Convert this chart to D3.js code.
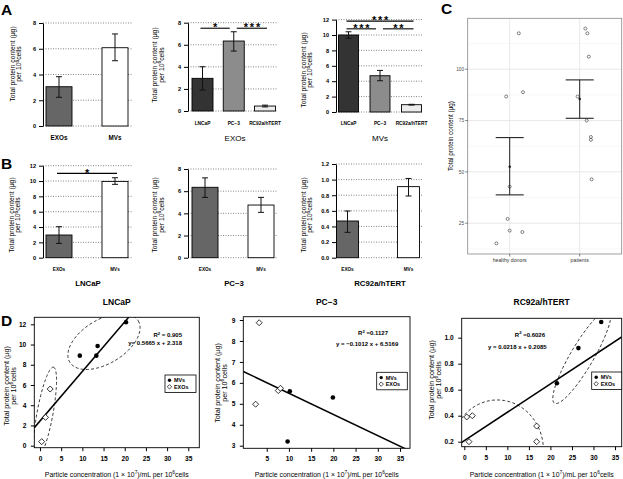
<!DOCTYPE html>
<html><head><meta charset="utf-8">
<script src="https://cdn.jsdelivr.net/npm/d3@7"></script>
<style>body{margin:0;background:#fff} svg{display:block}</style>
</head><body><script>
// ---------------- DATA ----------------
const expCats = ["EXOs","MVs"];
const lineCats = ["LNCaP","PC−3","RC92a/hTERT"];
const ticks8 = [0,2,4,6,8];
const ticks12 = [0,2,4,6,8,10,12];
const ticks12b = [0,0.2,0.4,0.6,0.8,1.0,1.2];

const a1Mean=[3.05,6.08], a1Lo=[2.23,5.07], a1Hi=[3.83,7.15];
const a2Mean=[2.96,6.34,0.45], a2Lo=[1.9,5.43,0.37], a2Hi=[4.01,7.18,0.53];
const a3Mean=[10.0,4.71,0.95], a3Lo=[9.57,4.06,0.9], a3Hi=[10.42,5.4,1.0];
const b1Mean=[2.96,9.95], b1Lo=[1.87,9.57], b1Hi=[4.04,10.43];
const b2Mean=[6.35,4.75], b2Lo=[5.44,4.09], b2Hi=[7.2,5.44];
const b3Mean=[0.47,0.91], b3Lo=[0.325,0.79], b3Hi=[0.598,1.015];

const a2Sig=[{from:"LNCaP",to:"PC−3",level:7.5,label:"*"},{from:"PC−3",to:"RC92a/hTERT",level:7.5,label:"***"}];
const a3Sig=[{from:"LNCaP",to:"RC92a/hTERT",level:11.8,label:"***"},{from:"LNCaP",to:"PC−3",level:10.8,label:"***"},{from:"PC−3",to:"RC92a/hTERT",level:10.8,label:"**"}];
const b1Sig=[{from:"EXOs",to:"MVs",level:11.0,label:"*"}];

// Panel C
const groupsC=["healthy donors","patients"];
const healthyVals=[117.5,86.7,88.8,42.8,27.1,21.4,20.7,15.2];
const healthyJit=[0.13,-0.05,0.19,0,-0.03,0,0.18,-0.19];
const patientVals=[119.8,117.5,106.1,86.7,75.0,67.0,65.6,46.4];
const patientJit=[0.08,0.11,0.13,-0.03,0.10,0.16,0.16,0.17];
const errLoC=[38.8,76.1], errHiC=[66.7,94.8];
const ticksC=[25,50,75,100];

// Panel D
const dTicksX=[0,5,10,15,20,25,30,35];
const d1MvX=[9.4,13.3,13.6,20.3], d1MvY=[8.9,8.9,9.85,12.2];
const d1ExX=[0.4,1.3,2.4], d1ExY=[0.4,2.8,5.6];
const d2MvX=[10.2,9.7,19.9], d2MvY=[5.6,3.2,5.3];
const d2ExX=[3.3,2.5,7.6,8.1], d2ExY=[8.87,4.98,5.63,5.74];
const d3MvX=[21.5,26.5,31.8], d3MvY=[0.65,0.92,1.12];
const d3ExX=[0.56,1.86,1.09,16.8,16.8], d3ExY=[0.39,0.40,0.20,0.32,0.20];
const d1Fit={slope:0.49,intercept:2.44}, d2Fit={slope:-0.1012,intercept:6.5169}, d3Fit={slope:0.0218,intercept:0.2085};
const d1R2="0.905", d1Eq="y= 0.5665 x + 2.318";
const d2R2="0.1127", d2Eq="y = −0.1012 x + 6.5169";
const d3R2="0.6026", d3Eq="y = 0.0218 x + 0.2085";
const d1Ell=[{c:[15.1,10.3],u:[8.09,2.04],v:[2.67,-1.87]},{c:[1.18,3.2],u:[2.0,4.56],v:[1.85,-0.14]}];
const d3Ell=[{c:[7.67,0.136],u:[10.7,0],v:[0,0.385]},{c:[27.3,0.854],u:[6.35,0.358],v:[2.3,-0.045]}];

// ---------------- DRAW ----------------
const FONT='"Liberation Sans", Arial, Helvetica, sans-serif';
const svg=d3.select("body").append("svg").attr("width",623).attr("height",479).attr("font-family",FONT);

function txt(x,y,s,size,o={}){
  return svg.append("text").attr("x",x).attr("y",y).attr("font-size",size)
    .attr("text-anchor",o.anchor||"middle").attr("font-weight",o.bold?"bold":"normal")
    .attr("fill",o.fill||"#000").text(s);
}
function yLabel(cx,cy,size,gap){
  const t=svg.append("text").attr("transform",`translate(${cx},${cy}) rotate(-90)`).attr("text-anchor","middle").attr("font-size",size);
  t.text("Total protein content (μg)");
  const t2=svg.append("text").attr("transform",`translate(${cx+gap},${cy}) rotate(-90)`).attr("text-anchor","middle").attr("font-size",size);
  t2.append("tspan").text("per 10");
  t2.append("tspan").attr("dy",-size*0.38).attr("font-size",size*0.7).text("6");
  t2.append("tspan").attr("dy",size*0.38).text("cells");
}

function barPanel(o){
  const y=d3.scaleLinear().domain([0,o.max]).range([o.y0,o.yTop]);
  const x=d3.scalePoint().domain(o.cats).range(o.xr);
  const g=svg.append("g");
  g.selectAll("line.grid").data(o.ticks).join("line")
    .attr("x1",o.axisX).attr("x2",o.gridR).attr("y1",d=>y(d)).attr("y2",d=>y(d))
    .attr("stroke","#333").attr("stroke-width",0.6).attr("stroke-dasharray","1,1.5");
  const ax=g.append("g").attr("transform",`translate(${o.axisX},0)`)
    .call(d3.axisLeft(y).tickValues(o.ticks).tickSize(4).tickSizeOuter(0).tickPadding(3).tickFormat(d3.format(o.fmt||"d")));
  ax.attr("font-family",FONT).attr("font-size",5.6).attr("font-weight","bold");
  ax.select(".domain").attr("stroke-width",1);
  const data=o.cats.map((c,i)=>({c,m:o.mean[i],lo:o.lo[i],hi:o.hi[i],f:o.fills[i]}));
  g.selectAll("rect.bar").data(data).join("rect")
    .attr("x",d=>x(d.c)-o.bw/2).attr("width",o.bw).attr("y",d=>y(d.m)).attr("height",d=>o.y0-y(d.m))
    .attr("fill",d=>d.f).attr("stroke","#000").attr("stroke-width",0.9);
  const eb=g.selectAll("g.eb").data(data).join("g").attr("stroke","#111").attr("stroke-width",1);
  eb.append("line").attr("x1",d=>x(d.c)).attr("x2",d=>x(d.c)).attr("y1",d=>y(d.lo)).attr("y2",d=>y(d.hi));
  eb.append("line").attr("x1",d=>x(d.c)-3).attr("x2",d=>x(d.c)+3).attr("y1",d=>y(d.lo)).attr("y2",d=>y(d.lo));
  eb.append("line").attr("x1",d=>x(d.c)-3).attr("x2",d=>x(d.c)+3).attr("y1",d=>y(d.hi)).attr("y2",d=>y(d.hi));
  o.cats.forEach(c=>txt(x(c),o.catY,c,o.catSize,{bold:true}));
  if(o.title) txt(o.titleX,o.titleY,o.title,o.titleSize,{bold:o.titleBold});
  yLabel(o.labX,o.labY,6.8,6.6);
  (o.sig||[]).forEach(s=>{
    const sharedStart=o.sig.some(t=>t!==s&&t.level===s.level&&t.to===s.from);
    const sharedEnd=o.sig.some(t=>t!==s&&t.level===s.level&&t.from===s.to);
    const x1=x(s.from)+(sharedStart?3:-2), x2=x(s.to)+(sharedEnd?-4:2);
    g.append("line").attr("x1",x1).attr("x2",x2).attr("y1",y(s.level)).attr("y2",y(s.level)).attr("stroke","#000").attr("stroke-width",1.1);
    svg.append("text").attr("x",(x1+x2)/2+1).attr("y",y(s.level)+3.2).attr("text-anchor","middle")
      .attr("font-size",11).attr("font-weight","bold").attr("letter-spacing",1.8).text(s.label);
  });
}

const fillsLine=["#333333","#8c8c8c","#ececec"];
const fillsExp=["#666666","#ffffff"];

barPanel({cats:expCats,xr:[59,115],bw:26,axisX:43,y0:126,yTop:23,max:8,ticks:ticks8,gridR:132,
  mean:a1Mean,lo:a1Lo,hi:a1Hi,fills:fillsExp,catY:139.5,catSize:6.3,labX:14.5,labY:64});
barPanel({cats:lineCats,xr:[202.5,265],bw:21,axisX:188,y0:111,yTop:22.7,max:8,ticks:ticks8,gridR:277,
  mean:a2Mean,lo:a2Lo,hi:a2Hi,fills:fillsLine,catY:125,catSize:4.8,title:"EXOs",titleX:235,titleY:140.5,titleSize:8,
  labX:157,labY:65,sig:a2Sig});
barPanel({cats:lineCats,xr:[348.5,411.5],bw:20,axisX:336,y0:112,yTop:19.6,max:12,ticks:ticks12,gridR:423,
  mean:a3Mean,lo:a3Lo,hi:a3Hi,fills:fillsLine,catY:125,catSize:4.8,title:"MVs",titleX:380,titleY:140.5,titleSize:8,
  labX:305.5,labY:70,sig:a3Sig});
barPanel({cats:expCats,xr:[59,115],bw:26,axisX:43,y0:257.7,yTop:165.7,max:12,ticks:ticks12,gridR:133,
  mean:b1Mean,lo:b1Lo,hi:b1Hi,fills:fillsExp,catY:270.5,catSize:4.6,title:"LNCaP",titleX:88,titleY:286,titleSize:7.8,titleBold:true,
  labX:13.5,labY:215,sig:b1Sig});
barPanel({cats:expCats,xr:[205,261],bw:26,axisX:188,y0:257.7,yTop:169,max:8,ticks:ticks8,gridR:277,
  mean:b2Mean,lo:b2Lo,hi:b2Hi,fills:fillsExp,catY:270.5,catSize:4.6,title:"PC−3",titleX:234,titleY:286,titleSize:7.8,titleBold:true,
  labX:157,labY:215});
barPanel({cats:expCats,xr:[347.5,408.5],bw:22,axisX:336,y0:257.7,yTop:164,max:1.2,ticks:ticks12b,fmt:".1f",gridR:423,
  mean:b3Mean,lo:b3Lo,hi:b3Hi,fills:fillsExp,catY:270.5,catSize:4.6,title:"RC92a/hTERT",titleX:380,titleY:286,titleSize:7.8,titleBold:true,
  labX:305.5,labY:215});

// ---------- Panel C ----------
(function(){
  const L=467.7,R=621.7,T=18.3,B=254;
  const xC=d3.scaleLinear().domain([0.4,2.6]).range([L,R]);
  const yC=d3.scaleLinear().domain([10,124.8]).range([B,T]);
  const g=svg.append("g");
  g.append("rect").attr("x",L).attr("y",T).attr("width",R-L).attr("height",B-T).attr("fill","#fff");
  const minor=[12.5,37.5,62.5,87.5,112.5];
  g.selectAll("line.mn").data(minor).join("line").attr("x1",L).attr("x2",R).attr("y1",d=>yC(d)).attr("y2",d=>yC(d)).attr("stroke","#f0f0f0").attr("stroke-width",0.5);
  g.selectAll("line.mj").data(ticksC).join("line").attr("x1",L).attr("x2",R).attr("y1",d=>yC(d)).attr("y2",d=>yC(d)).attr("stroke","#e2e2e2").attr("stroke-width",0.8);
  g.selectAll("line.vx").data([1,2]).join("line").attr("x1",d=>xC(d)).attr("x2",d=>xC(d)).attr("y1",T).attr("y2",B).attr("stroke","#e2e2e2").attr("stroke-width",0.8);
  g.append("rect").attr("x",L).attr("y",T).attr("width",R-L).attr("height",B-T).attr("fill","none").attr("stroke","#888").attr("stroke-width",0.8);
  g.selectAll("line.ty").data(ticksC).join("line").attr("x1",L-2.5).attr("x2",L).attr("y1",d=>yC(d)).attr("y2",d=>yC(d)).attr("stroke","#333").attr("stroke-width",0.6);
  ticksC.forEach(t=>txt(L-3.5,yC(t)+1.7,String(t),4.8,{anchor:"end",fill:"#4d4d4d"}));
  g.selectAll("line.tx").data([1,2]).join("line").attr("x1",d=>xC(d)).attr("x2",d=>xC(d)).attr("y1",B).attr("y2",B+2.5).attr("stroke","#333").attr("stroke-width",0.6);
  groupsC.forEach((c,i)=>txt(xC(i+1),262,c,5.2,{fill:"#333"}));
  svg.append("text").attr("transform",`translate(452.5,136) rotate(-90)`).attr("text-anchor","middle").attr("font-size",6.3).text("Total protein content (μg)");
  const sets=[{v:healthyVals,j:healthyJit,i:1},{v:patientVals,j:patientJit,i:2}];
  sets.forEach((s,k)=>{
    g.selectAll(null).data(s.v).join("circle").attr("cx",(d,n)=>xC(s.i+s.j[n])).attr("cy",d=>yC(d)).attr("r",1.5)
      .attr("fill","none").attr("stroke","#333").attr("stroke-width",0.6);
    const cx=xC(s.i);
    g.append("line").attr("x1",cx).attr("x2",cx).attr("y1",yC(errLoC[k])).attr("y2",yC(errHiC[k])).attr("stroke","#222").attr("stroke-width",1);
    [errLoC[k],errHiC[k]].forEach(v=>g.append("line").attr("x1",xC(s.i-0.2)).attr("x2",xC(s.i+0.2)).attr("y1",yC(v)).attr("y2",yC(v)).attr("stroke","#222").attr("stroke-width",1.1));
    g.append("circle").attr("cx",cx).attr("cy",yC(d3.mean(s.v))).attr("r",1.2).attr("fill","#111");
  });
})();

// ---------- Panel D ----------
function scatterPanel(o){
  const x=d3.scaleLinear().domain(o.xd).range([o.L,o.R]);
  const y=d3.scaleLinear().domain(o.yd).range([o.B,o.T]);
  const id="clip"+o.id;
  svg.append("clipPath").attr("id",id).append("rect").attr("x",o.L).attr("y",o.T).attr("width",o.R-o.L).attr("height",o.B-o.T);
  const g=svg.append("g");
  const cg=g.append("g").attr("clip-path",`url(#${id})`);
  (o.ell||[]).forEach(e=>{
    const pts=d3.range(0,361,3).map(a=>{const t=a*Math.PI/180;
      return [x(e.c[0]+e.u[0]*Math.cos(t)+e.v[0]*Math.sin(t)), y(e.c[1]+e.u[1]*Math.cos(t)+e.v[1]*Math.sin(t))];});
    cg.append("path").attr("d",d3.line()(pts)+"Z").attr("fill","none").attr("stroke","#222").attr("stroke-width",0.9).attr("stroke-dasharray","3,2.2");
  });
  cg.append("line").attr("x1",x(o.xd[0])).attr("x2",x(o.xd[1]))
    .attr("y1",y(o.fit.intercept+o.fit.slope*o.xd[0])).attr("y2",y(o.fit.intercept+o.fit.slope*o.xd[1]))
    .attr("stroke","#000").attr("stroke-width",1.5);
  const diamond=r=>`M0,${-r}L${r},0L0,${r}L${-r},0Z`;
  g.selectAll(null).data(o.exX).join("path").attr("d",diamond(3)).attr("transform",(d,i)=>`translate(${x(d)},${y(o.exY[i])})`)
    .attr("fill","#fff").attr("stroke","#000").attr("stroke-width",0.8);
  g.selectAll(null).data(o.mvX).join("circle").attr("cx",d=>x(d)).attr("cy",(d,i)=>y(o.mvY[i])).attr("r",2.3).attr("fill","#000");
  g.append("rect").attr("x",o.L).attr("y",o.T).attr("width",o.R-o.L).attr("height",o.B-o.T).attr("fill","none").attr("stroke","#000").attr("stroke-width",0.9);
  const ax=g.append("g").attr("transform",`translate(0,${o.B})`).call(d3.axisBottom(x).tickValues(o.xt).tickSize(3.5).tickSizeOuter(0).tickPadding(5));
  ax.select(".domain").remove(); ax.attr("font-family",FONT).attr("font-size",6.6).attr("font-weight","bold");
  const ay=g.append("g").attr("transform",`translate(${o.L},0)`).call(d3.axisLeft(y).tickValues(o.yt).tickSize(3.5).tickSizeOuter(0).tickPadding(4.5).tickFormat(d3.format(o.yfmt)));
  ay.select(".domain").remove(); ay.attr("font-family",FONT).attr("font-size",6.6).attr("font-weight","bold");
  txt((o.L+o.R)/2,305,o.title,8.5,{bold:true});
  const xl=svg.append("text").attr("x",(o.L+o.R)/2).attr("y",477).attr("text-anchor","middle").attr("font-size",6.9);
  xl.append("tspan").text("Particle concentration (1 × 10");
  xl.append("tspan").attr("dy",-2.6).attr("font-size",4.8).text("7");
  xl.append("tspan").attr("dy",2.6).text(")/mL per 10");
  xl.append("tspan").attr("dy",-2.6).attr("font-size",4.8).text("6");
  xl.append("tspan").attr("dy",2.6).text("cells");
  yLabel(o.labX,o.labY,7.2,7);
  const r2=svg.append("text").attr("x",o.r2x).attr("y",o.r2y).attr("text-anchor","end").attr("font-size",6).attr("font-weight","bold");
  r2.append("tspan").text("R");
  r2.append("tspan").attr("dy",-2.4).attr("font-size",4.2).text("2");
  r2.append("tspan").attr("dy",2.4).text(o.r2sep+o.r2);
  txt(o.eqx,o.eqy,o.eq,6,{anchor:"end",bold:true});
  const lg=g.append("g").attr("transform",`translate(${o.lgx},${o.lgy})`);
  lg.append("rect").attr("width",o.lgw).attr("height",17.5).attr("fill","#fff").attr("stroke","#000").attr("stroke-width",0.8);
  lg.append("circle").attr("cx",4.5).attr("cy",5.3).attr("r",1.7).attr("fill","#000");
  lg.append("path").attr("d",diamond(2.2)).attr("transform","translate(4.5,11.8)").attr("fill","#fff").attr("stroke","#000").attr("stroke-width",0.7);
  lg.append("text").attr("x",9).attr("y",7.3).attr("font-size",5.4).attr("font-weight","bold").text("MVs");
  lg.append("text").attr("x",9).attr("y",13.8).attr("font-size",5.4).attr("font-weight","bold").text("EXOs");
}

scatterPanel({id:1,L:34.3,R:199.3,T:317.3,B:447.7,xd:[-1.345,37.6],yd:[-0.198,12.69],xt:dTicksX,yt:[0,2,4,6,8,10,12],yfmt:"d",
  mvX:d1MvX,mvY:d1MvY,exX:d1ExX,exY:d1ExY,fit:d1Fit,ell:d1Ell,title:"LNCaP",labX:9,labY:386,
  r2:d1R2,r2sep:" = ",r2x:182,r2y:337,eq:d1Eq,eqx:182,eqy:344.5,lgx:165,lgy:375,lgw:31});
scatterPanel({id:2,L:243.3,R:410,T:316.7,B:448.3,xd:[-0.27,37.25],yd:[2.876,9.158],xt:[5,10,15,20,25,30,35],yt:[3,4,5,6,7,8,9],yfmt:"d",
  mvX:d2MvX,mvY:d2MvY,exX:d2ExX,exY:d2ExY,fit:d2Fit,ell:[],title:"PC−3",labX:219.5,labY:383,
  r2:d2R2,r2sep:" =",r2x:388,r2y:335,eq:d2Eq,eqx:398.3,eqy:346,lgx:376.7,lgy:372.3,lgw:30.6});
scatterPanel({id:3,L:461.7,R:621.7,T:318.3,B:446.7,xd:[-0.604,36.55],yd:[0.1615,1.149],xt:dTicksX,yt:[0.2,0.4,0.6,0.8,1.0],yfmt:".1f",
  mvX:d3MvX,mvY:d3MvY,exX:d3ExX,exY:d3ExY,fit:d3Fit,ell:d3Ell,title:"RC92a/hTERT",labX:434,labY:380,
  r2:d3R2,r2sep:" =",r2x:545,r2y:336.7,eq:d3Eq,eqx:546.7,eqy:349,lgx:591.7,lgy:372,lgw:30});

txt(1,15,"A",15.5,{anchor:"start",bold:true});
txt(1,168.5,"B",15.5,{anchor:"start",bold:true});
txt(441,13.8,"C",15.5,{anchor:"start",bold:true});
txt(1,325.5,"D",15.5,{anchor:"start",bold:true});
</script></body></html>
